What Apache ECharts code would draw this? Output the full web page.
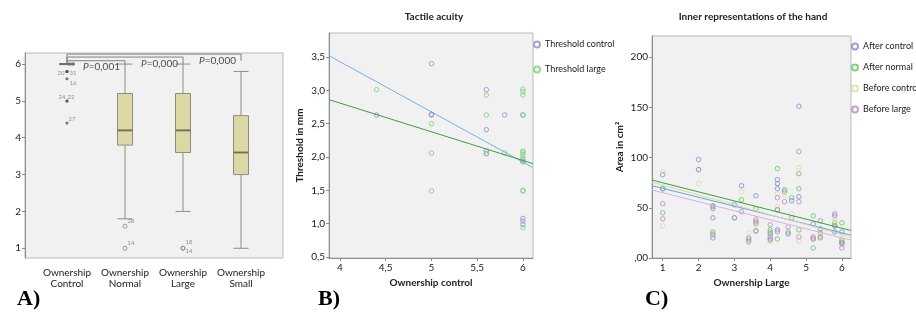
<!DOCTYPE html>
<html>
<head>
<meta charset="utf-8">
<script src="https://cdn.jsdelivr.net/npm/echarts@6/dist/echarts.min.js"></script>
<style>html,body{margin:0;background:#fff}#chart{width:916px;height:316px}</style>
</head>
<body>
<div id="chart"></div>
<script>
// A) boxplot: [min, Q1, median, Q3, max]
const boxCats = ['Ownership\nControl', 'Ownership\nNormal', 'Ownership\nLarge', 'Ownership\nSmall'];
const boxStats = [[6, 6, 6, 6, 6], [1.8, 3.8, 4.2, 5.2, 6], [2, 3.6, 4.2, 5.2, 6], [1, 3, 3.6, 4.6, 5.8]];
const extremes = [[0, 5.8, '32'], [0, 5.8, '20'], [0, 5.8, '31'], [0, 5.6, '16'], [0, 5, '24'], [0, 5, '22'], [0, 4.4, '27']];
const outliers = [[1, 1.6, '28'], [1, 1, '14'], [2, 1, '18'], [2, 1, '14b']];
const pValues = ['P=0,001', 'P=0,000', 'P=0,000'];
const bracketTops = [6.09, 6.19, 6.27];
const bracketEnds = [6, 6, 6.09];
const aTicks = [1, 2, 3, 4, 5, 6];

// B) tactile acuity
const thresholdControl = [[4.4, 2.63], [5, 3.4], [5, 2.63], [5, 2.64], [5.6, 3.01], [5.6, 2.41], [5.6, 2.09], [5.6, 2.05],
  [5.8, 2.63], [6, 2.63], [6, 1.96], [6, 1.93], [6, 1.08], [6, 1.04], [6, 0.99]];
const thresholdLarge = [[4.4, 3.01], [5, 2.5], [5, 2.06], [5, 1.49], [5.6, 2.93], [5.6, 2.63], [5.6, 2.05], [5.8, 2.06],
  [6, 3.02], [6, 2.98], [6, 2.93], [6, 2.63], [6, 2.09], [6, 2.07], [6, 2.04], [6, 2.0], [6, 1.93], [6, 1.49], [6, 1.5], [6, 0.94]];
const fitControl = [[3.88, 3.52], [6.11, 1.84]];
const fitLarge = [[3.88, 2.86], [6.11, 1.9]];
const bXTicks = [4, 4.5, 5, 5.5, 6];
const bYTicks = [0.5, 1, 1.5, 2, 2.5, 3, 3.5];

// C) inner representations of the hand
const afterControl = [[1, 83], [1, 69], [2, 98], [2.4, 52], [2.4, 40], [2.4, 20], [3, 53], [3.2, 72], [3.4, 20], [3.6, 62],
  [4, 24], [4.2, 78], [4.2, 74], [4.2, 69], [4.2, 28], [4.4, 66], [4.5, 24], [4.6, 57], [4.8, 151], [4.8, 61],
  [5.2, 34], [5.4, 29], [5.8, 42], [5.8, 26], [6, 26], [6, 16]];
const afterNormal = [[1, 69], [1, 45], [2, 88], [2.4, 51], [2.4, 26], [2.4, 24], [3, 40], [3.2, 58], [3.4, 18], [3.6, 49],
  [3.6, 34], [3.6, 27], [4, 28], [4, 26], [4, 18], [4.2, 89], [4.2, 48], [4.2, 19], [4.4, 68], [4.5, 26], [4.6, 60],
  [4.8, 84], [4.8, 69], [4.8, 28], [5.2, 42], [5.2, 19], [5.2, 10], [5.4, 25], [5.4, 20], [5.8, 35], [5.8, 32],
  [6, 35], [6, 18], [6, 15]];
const beforeControl = [[1, 86], [1, 32], [2, 74], [2.4, 24], [3.2, 66], [3.4, 25], [3.6, 35], [4, 16], [4.2, 64], [4.2, 51],
  [4.4, 63], [4.6, 44], [4.8, 90], [4.8, 17], [5.2, 20], [5.4, 22], [5.8, 38], [6, 20]];
const beforeLarge = [[1, 54], [1, 39], [2, 88], [2.4, 49], [2.4, 23], [3, 40], [3.2, 46], [3.4, 16], [3.6, 38], [3.6, 36],
  [3.6, 27], [4, 33], [4, 21], [4, 19], [4.2, 60], [4.2, 26], [4.2, 48], [4.4, 56], [4.5, 31], [4.6, 40], [4.8, 106],
  [4.8, 56], [4.8, 21], [5.2, 21], [5.2, 19], [5.4, 37], [5.4, 21], [5.8, 44], [5.8, 32], [6, 10], [6, 14]];
const fitAfterControl = [[0.7, 72], [6.25, 22.8]];
const fitAfterNormal = [[0.7, 77.6], [6.25, 27.4]];
const fitBeforeControl = [[0.7, 75.5], [6.25, 21]];
const fitBeforeLarge = [[0.7, 67.7], [6.25, 17.8]];
const cXTicks = [1, 2, 3, 4, 5, 6];
const cYTicks = [0, 50, 100, 150, 200];

const font = 'Lato, "Open Sans", sans-serif';
const plotBg = '#f1f1f1';
const frame = '#b9b9b9';
const axisGray = '#8c8c8c';
const txt = '#222';

// 离群点编号的位置
const labelShift = { '32': [4, -7], '20': [-6, 2], '31': [6, 2], '16': [6, 4], '24': [-5, -4], '22': [4, -4], '27': [5, -4],
  '28': [6, -5], '14': [6, -5], '18': [6, -6], '14b': [6, 3] };

function caseLabels(list) {
  return list.map(function (d) {
    return {
      value: [d[0], d[1]],
      name: d[2],
      label: { show: true, position: 'inside', offset: labelShift[d[2]], formatter: d[2].replace('b', '') }
    };
  });
}

function valueAxis(grid, min, max, ticks, fmt, name, gap, isY) {
  return {
    gridIndex: grid, type: 'value', min: min, max: max,
    name: name, nameLocation: 'middle', nameGap: gap,
    nameTextStyle: { fontFamily: font, fontWeight: 'bold', fontSize: 10, color: txt },
    axisLine: { show: true, lineStyle: { color: axisGray, width: 1 } },
    axisTick: { show: true, customValues: ticks, length: 3, lineStyle: { color: axisGray } },
    axisLabel: { customValues: ticks, formatter: fmt, fontFamily: font, fontSize: 10, color: txt, margin: isY ? 4 : 5 },
    splitLine: { show: false }
  };
}

function dots(name, data, color, x, y) {
  return {
    name: name, type: 'scatter', xAxisIndex: x, yAxisIndex: y, data: data,
    symbol: 'circle', symbolSize: 4.5,
    itemStyle: { color: 'rgba(255,255,255,0)', borderColor: color, borderWidth: 1 },
    silent: true
  };
}

function fit(data, color, x, y) {
  return {
    type: 'line', xAxisIndex: x, yAxisIndex: y, data: data, symbol: 'none', silent: true,
    lineStyle: { color: color, width: 1 }
  };
}

const brackets = bracketTops.map(function (h, i) {
  return {
    type: 'line', xAxisIndex: 1, yAxisIndex: 1, symbol: 'none', silent: true,
    data: [[0, 6], [0, h], [i + 1, h], [i + 1, bracketEnds[i]]],
    lineStyle: { color: '#808080', width: 1 }, z: 1
  };
});

const option = {
  animation: false,
  backgroundColor: '#fff',
  textStyle: { fontFamily: font },
  grid: [
    { left: 25, top: 53, width: 258, height: 205, show: true, backgroundColor: plotBg, borderColor: frame, borderWidth: 1, outerBoundsMode: 'none' },
    { left: 38, top: 53, width: 232, height: 205, outerBoundsMode: 'none' },
    { left: 329, top: 33, width: 204, height: 225, show: true, backgroundColor: plotBg, borderColor: frame, borderWidth: 1, outerBoundsMode: 'none' },
    { left: 652, top: 36, width: 199, height: 222, show: true, backgroundColor: plotBg, borderColor: frame, borderWidth: 1, outerBoundsMode: 'none' }
  ],
  xAxis: [
    { gridIndex: 0, type: 'value', min: 0, max: 1, show: false },
    {
      gridIndex: 1, type: 'category', data: boxCats,
      axisLine: { show: false }, axisTick: { show: false },
      axisLabel: { fontFamily: font, fontSize: 10, lineHeight: 11, color: txt, margin: 9, interval: 0 }
    },
    valueAxis(2, 3.88, 6.11, bXTicks, function (v) { return String(v).replace('.', ','); }, 'Ownership control', 15, false),
    valueAxis(3, 0.7, 6.255, cXTicks, function (v) { return String(v); }, 'Ownership Large', 15, false)
  ],
  yAxis: [
    valueAxis(0, 0.736, 6.3, aTicks, function (v) { return String(v); }, '', 0, true),
    { gridIndex: 1, type: 'value', min: 0.736, max: 6.3, show: false },
    valueAxis(2, 0.485, 3.86, bYTicks, function (v) { return v.toFixed(1).replace('.', ','); }, 'Threshold in mm', 24, true),
    valueAxis(3, 0, 221, cYTicks, function (v) { return v === 0 ? ',00' : String(v); }, 'Area in cm²', 27, true)
  ],
  legend: [
    {
      left: 533, top: 40, padding: 0, orient: 'vertical', itemGap: 16, itemWidth: 6, itemHeight: 6, icon: 'circle',
      data: ['Threshold control', 'Threshold large'],
      textStyle: { fontFamily: font, fontSize: 9, color: txt }
    },
    {
      left: 851, top: 42, padding: 0, orient: 'vertical', itemGap: 12, itemWidth: 6, itemHeight: 6, icon: 'circle',
      data: ['After control', 'After normal', 'Before control', 'Before large'],
      textStyle: { fontFamily: font, fontSize: 9, color: txt }
    }
  ],
  graphic: [
    { type: 'text', x: 17, y: 288, style: { text: 'A)', font: 'bold 22px "Liberation Serif"', fill: '#000' } },
    { type: 'text', x: 318, y: 288, style: { text: 'B)', font: 'bold 22px "Liberation Serif"', fill: '#000' } },
    { type: 'text', x: 645, y: 288, style: { text: 'C)', font: 'bold 22px "Liberation Serif"', fill: '#000' } },
    { type: 'text', x: 434, y: 12, style: { text: 'Tactile acuity', font: 'bold 10px Lato', fill: txt, textAlign: 'center', align: 'center' } },
    { type: 'text', x: 753, y: 12, style: { text: 'Inner representations of the hand', font: 'bold 10px Lato', fill: txt, textAlign: 'center', align: 'center' } }
  ],
  series: [
    {
      type: 'boxplot', xAxisIndex: 1, yAxisIndex: 1, data: boxStats, boxWidth: [15, 15], silent: true,
      itemStyle: { color: '#dbd8a6', borderColor: '#8e8e80', borderWidth: 1 }, z: 2
    },
    {
      type: 'scatter', xAxisIndex: 1, yAxisIndex: 1, silent: true, z: 3,
      data: boxStats.map(function (s, i) { return [i, s[2]]; }),
      symbol: 'rect', symbolSize: [15, 2], itemStyle: { color: '#6a684a' }
    },
    {
      type: 'scatter', xAxisIndex: 1, yAxisIndex: 1, silent: true, data: caseLabels(extremes),
      symbol: 'circle', symbolSize: 3, itemStyle: { color: '#555' },
      label: { fontFamily: font, fontSize: 6, color: '#777' }
    },
    {
      type: 'scatter', xAxisIndex: 1, yAxisIndex: 1, silent: true, data: caseLabels(outliers),
      symbol: 'circle', symbolSize: 4,
      itemStyle: { color: 'rgba(255,255,255,0)', borderColor: '#888', borderWidth: 1 },
      label: { fontFamily: font, fontSize: 6, color: '#777' }
    }
  ].concat(brackets).concat([
    {
      type: 'scatter', xAxisIndex: 1, yAxisIndex: 1, silent: true, symbolSize: 0,
      data: pValues.map(function (p, i) { return { value: [i + 1, bracketTops[i] - 0.17], name: p }; }),
      label: {
        show: true, position: 'left', distance: 5,
        formatter: function (d) { return '{i|P}{n|' + d.name.slice(1) + '}'; },
        rich: {
          i: { fontFamily: font, fontSize: 10, fontStyle: 'italic', color: txt },
          n: { fontFamily: font, fontSize: 10, color: txt }
        }
      }
    },
    dots('Threshold control', thresholdControl, '#8a8fd2', 2, 2),
    dots('Threshold large', thresholdLarge, '#78cf78', 2, 2),
    fit(fitControl, '#72b2ea', 2, 2),
    fit(fitLarge, '#3d9f3d', 2, 2),
    dots('After control', afterControl, '#7d88d8', 3, 3),
    dots('After normal', afterNormal, '#5fc45f', 3, 3),
    dots('Before control', beforeControl, '#e0da9c', 3, 3),
    dots('Before large', beforeLarge, '#bd84c7', 3, 3),
    fit(fitAfterControl, '#5ea8e4', 3, 3),
    fit(fitAfterNormal, '#37a237', 3, 3),
    fit(fitBeforeControl, '#e0d9a4', 3, 3),
    fit(fitBeforeLarge, '#d8b1e6', 3, 3)
  ])
};

const myChart = echarts.init(document.getElementById('chart'));
myChart.setOption(option);
</script>
</body>
</html>
